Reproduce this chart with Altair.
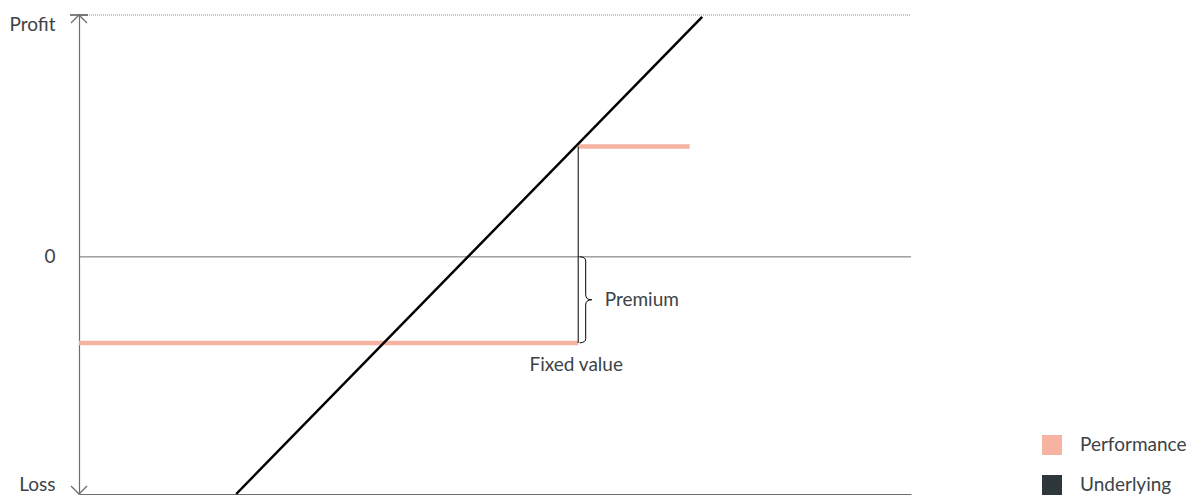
import altair as alt
import pandas as pd

# ---- data ----
underlying_x = [18.9, 74.9]
underlying_y = [-100, 101.2]

perf_x_start = [0, 60]
perf_x_end = [60, 73.4]
perf_y = [-36.3, 46.5]

strike_x = [60]
strike_y_low = [-36.3]
strike_y_high = [46.5]

brace_x = [60.9]
brace_y = [-18.1]

y_ticks = [-100, 0, 102]
y_tick_labels = ["Loss", "0", "Profit"]

series = ["Performance", "Underlying"]
series_colors = ["#F6B3A1", "#2E373B"]

label_font = "Lato"
font_size = 19
font_weight = 400
text_color = "#3B4347"
axis_gray = "#6E6E6E"

X = alt.Scale(domain=[0, 100], nice=False, zero=False)
Y = alt.Scale(domain=[-100, 102], nice=False, zero=False)

label_map = "{" + ",".join(f"'{v}':'{l}'" for v, l in zip(y_ticks, y_tick_labels)) + "}"

under_df = pd.DataFrame({"x": underlying_x, "y": underlying_y})
perf_df = pd.DataFrame({"x": perf_x_start, "x2": perf_x_end, "y": perf_y})
strike_df = pd.DataFrame({"x": strike_x, "y": strike_y_low, "y2": strike_y_high})
brace_df = pd.DataFrame({"x": brace_x, "y": brace_y})
zero_df = pd.DataFrame({"y": [0]})
top_df = pd.DataFrame({"y": [y_ticks[-1]]})
arrow_df = pd.DataFrame({"x": [0, 0], "y": [y_ticks[-1], y_ticks[0]], "dir": ["up", "down"]})
legend_df = pd.DataFrame({"series": series})

# frame: axes with labels
frame = alt.Chart(zero_df).mark_rule(color=axis_gray, strokeWidth=1).encode(
    y=alt.Y("y:Q", scale=Y, axis=alt.Axis(
        values=y_ticks, labelExpr=f"{label_map}[datum.value]", title=None,
        ticks=False, grid=False, domain=True, domainColor=axis_gray, domainWidth=1.2,
        labelFlush=True, labelFontSize=font_size, labelFont=label_font,
        labelFontWeight=font_weight, labelColor=text_color,
        labelPadding=24)),
    x=alt.value(0), x2=alt.value(832),
)

xaxis = alt.Chart(zero_df).mark_rule(opacity=0).encode(
    x=alt.X("xx:Q", scale=X, axis=alt.Axis(
        labels=False, ticks=False, grid=False, title=None, domain=True,
        domainColor=axis_gray, domainWidth=1.2)),
).transform_calculate(xx="0")

top_dotted = alt.Chart(top_df).mark_rule(color="#8A8A8A", strokeWidth=1, strokeDash=[1, 1]).encode(
    y=alt.Y("y:Q", scale=Y), x=alt.value(0), x2=alt.value(832)
)
top_tick = alt.Chart(top_df).mark_rule(color="#555555", strokeWidth=1.5).encode(
    y=alt.Y("y:Q", scale=Y), x=alt.value(-9), x2=alt.value(9)
)

arrows = alt.Chart(arrow_df).mark_point(filled=False, color=axis_gray, strokeWidth=1.3, size=256, opacity=1).encode(
    x=alt.X("x:Q", scale=X),
    y=alt.Y("y:Q", scale=Y),
    shape=alt.Shape("dir:N", scale=alt.Scale(domain=["up", "down"],
                                              range=["M-1,1L0,0L1,1", "M-1,-1L0,0L1,-1"]), legend=None),
)

underlying = alt.Chart(under_df).mark_line(color="#000000", strokeWidth=2.5).encode(
    x=alt.X("x:Q", scale=X), y=alt.Y("y:Q", scale=Y)
)

perf = alt.Chart(perf_df).mark_rule(color=series_colors[0], strokeWidth=4.5).encode(
    x=alt.X("x:Q", scale=X), x2="x2:Q", y=alt.Y("y:Q", scale=Y)
)

strike = alt.Chart(strike_df).mark_rule(color="#000000", strokeWidth=1).encode(
    x=alt.X("x:Q", scale=X), y=alt.Y("y:Q", scale=Y), y2="y2:Q"
)

brace_path = "M-0.14,-1Q0,-1 0,-0.9L0,-0.12Q0,0 0.14,0Q0,0 0,0.12L0,0.9Q0,1 -0.14,1"
brace = alt.Chart(brace_df).mark_point(shape=brace_path, filled=False, color="#000000",
                                        strokeWidth=1, size=7396, opacity=1).encode(
    x=alt.X("x:Q", scale=X), y=alt.Y("y:Q", scale=Y)
)

premium = alt.Chart(brace_df).mark_text(text="Premium", align="left", baseline="middle", dx=19,
                                         fontSize=font_size, font=label_font, fontWeight=font_weight,
                                         color=text_color).encode(
    x=alt.X("x:Q", scale=X), y=alt.Y("y:Q", scale=Y)
)

fixed = alt.Chart(strike_df).mark_text(text="Fixed value", align="center", baseline="middle", dy=22, dx=-2,
                                        fontSize=font_size, font=label_font, fontWeight=font_weight,
                                        color=text_color).encode(
    x=alt.X("x:Q", scale=X), y=alt.Y("y:Q", scale=Y)
)

legend_layer = alt.Chart(legend_df).mark_square(size=400, opacity=1).encode(
    color=alt.Color("series:N", scale=alt.Scale(domain=series, range=series_colors),
                    legend=alt.Legend(title=None, orient="none", legendX=963, legendY=420,
                                      symbolType="square", symbolSize=400, symbolStrokeWidth=0,
                                      labelFontSize=font_size, labelFont=label_font,
                                      labelFontWeight=font_weight, labelColor=text_color,
                                      labelOffset=18, rowPadding=20, padding=0))
).transform_filter("false")

chart = alt.layer(
    frame, xaxis, top_dotted, top_tick, arrows, perf, strike, underlying, brace, premium, fixed, legend_layer
).properties(
    width=832, height=479,
    autosize=alt.AutoSizeParams(type="none"),
    padding={"left": 71, "top": 7, "right": 276, "bottom": 2},
).configure_view(stroke=None)

chart.save("out.html", embed_options={"renderer": "svg", "actions": False})
